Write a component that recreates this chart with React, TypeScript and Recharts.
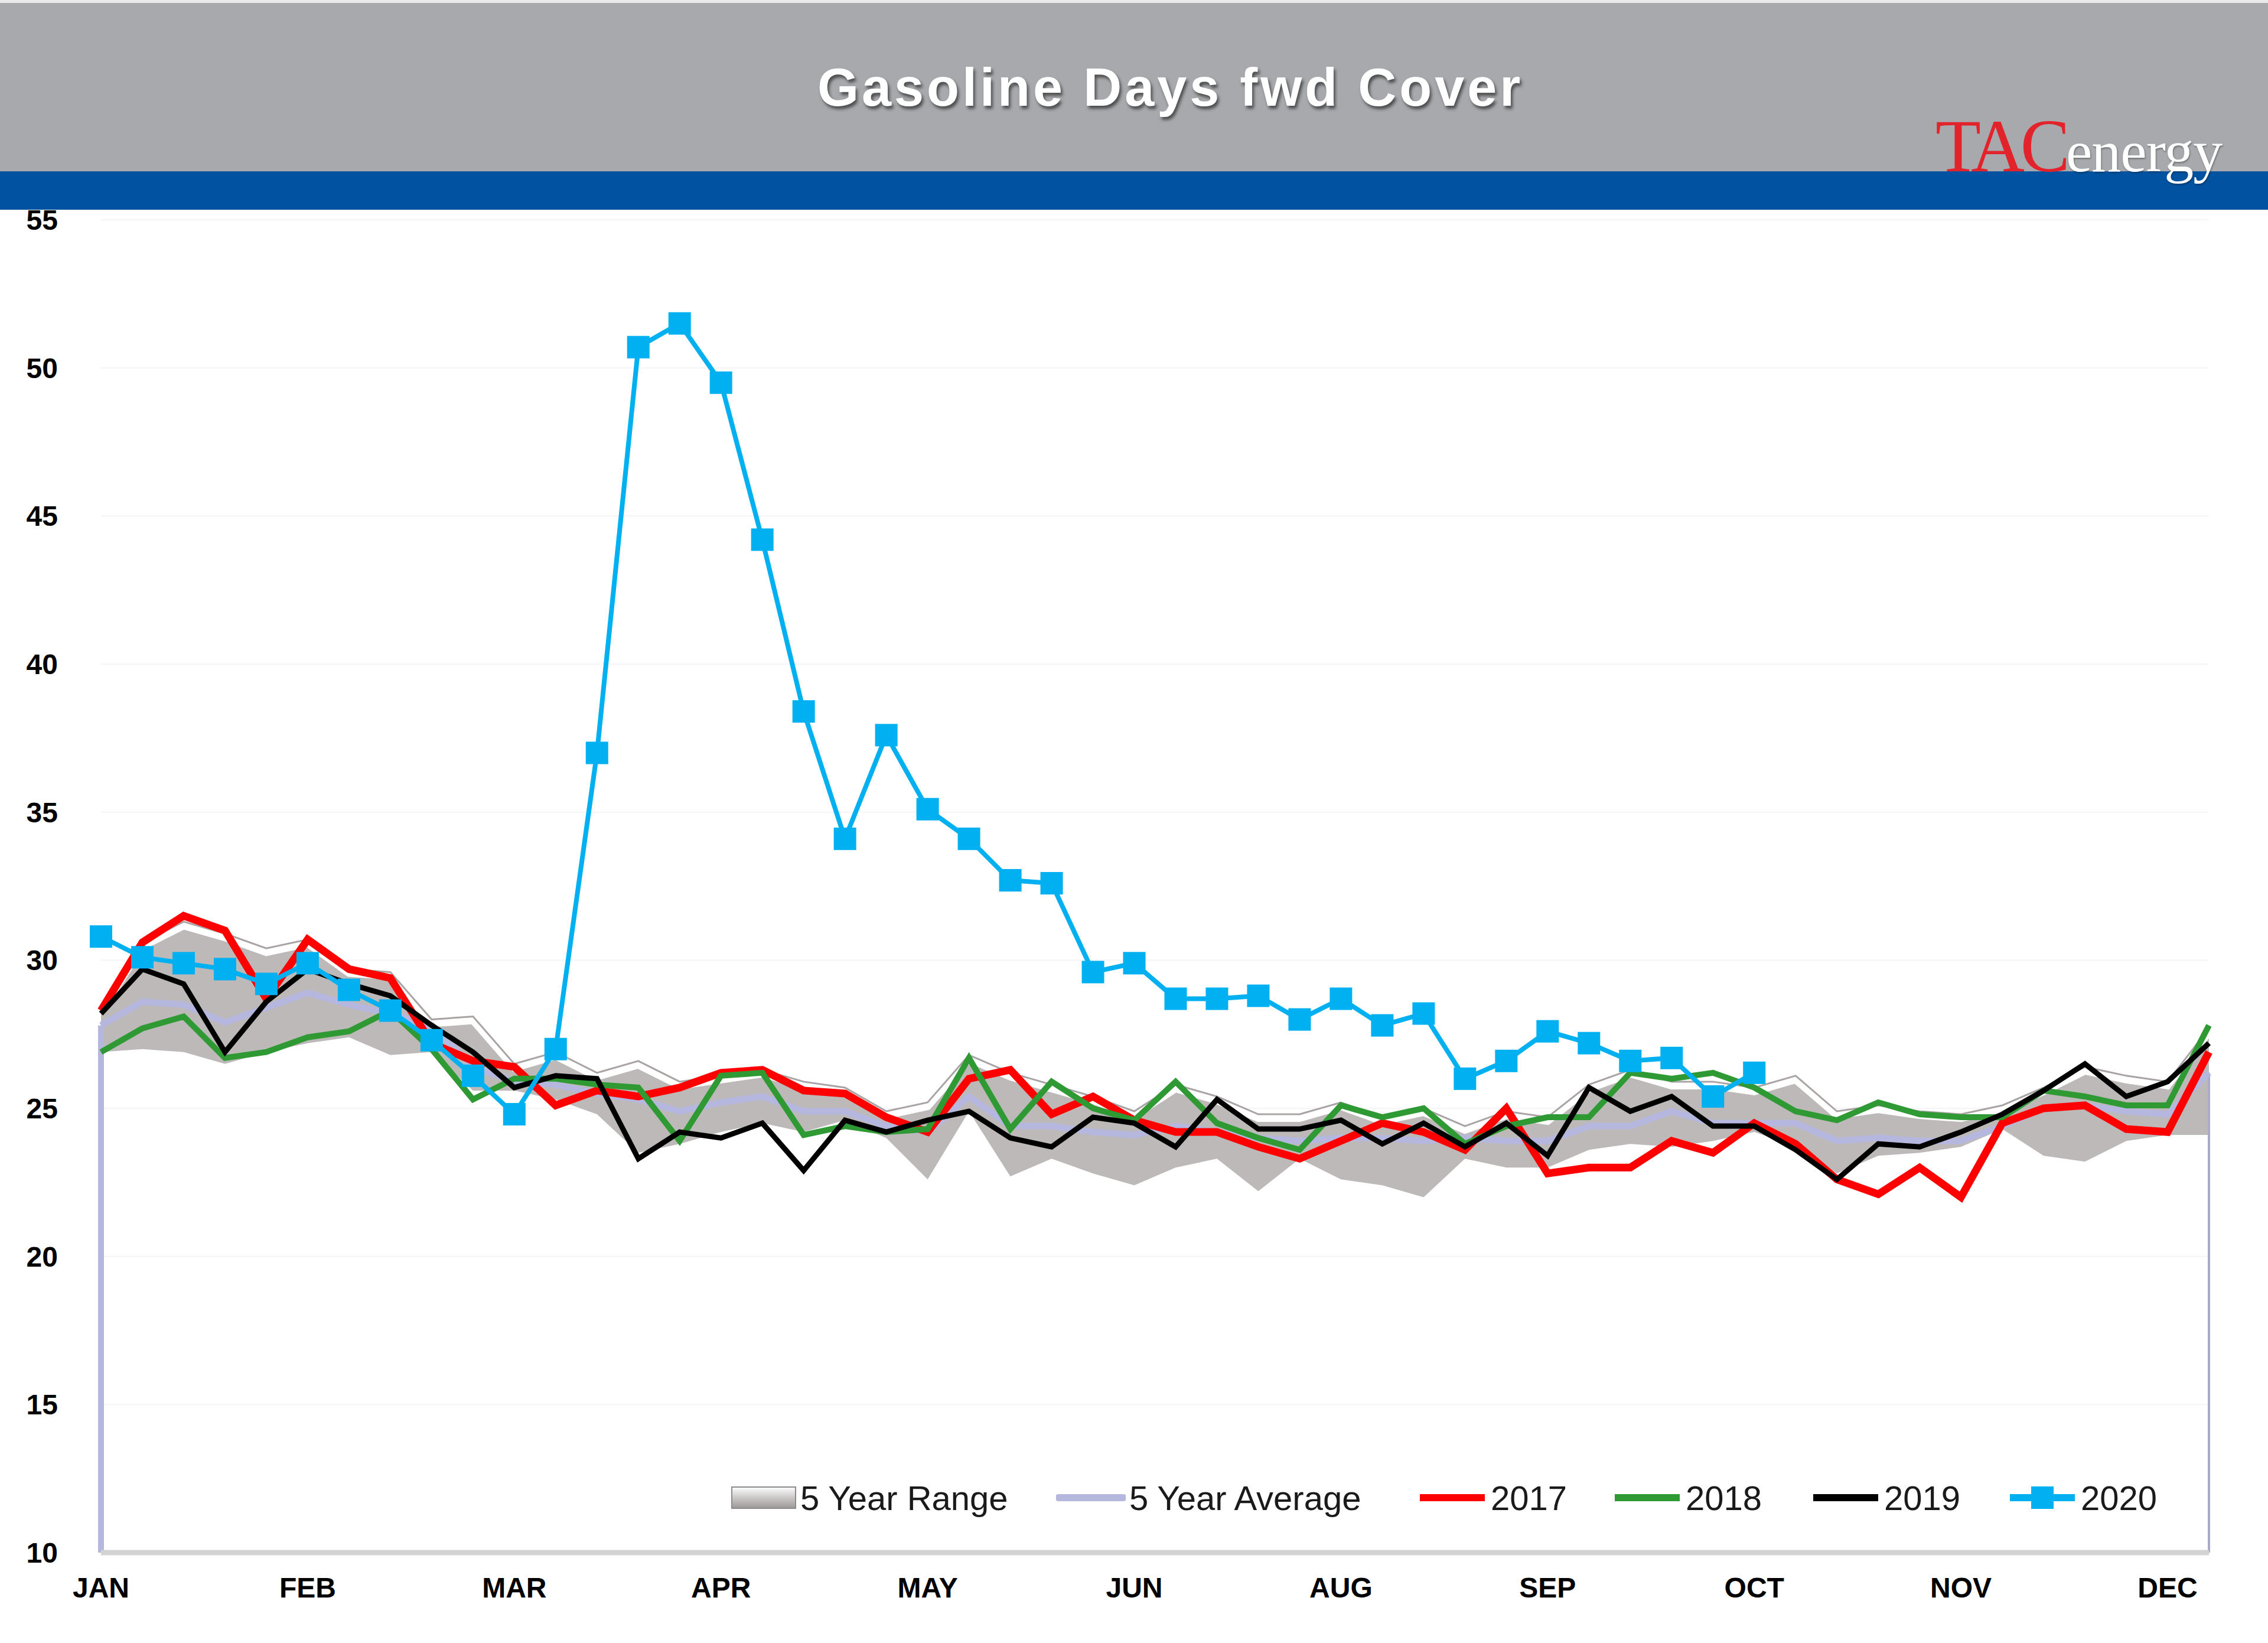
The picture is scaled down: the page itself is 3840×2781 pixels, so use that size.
import React from "react"
import { Area, ComposedChart, CartesianGrid, Legend, Line, ReferenceLine, XAxis, YAxis } from "recharts"

// weekly observations, week 1..52
const weeks = [
  1, 2, 3, 4, 5, 6, 7, 8, 9, 10, 11, 12, 13, 14, 15, 16, 17, 18, 19, 20, 21, 22, 23, 24, 25, 26,
  27, 28, 29, 30, 31, 32, 33, 34, 35, 36, 37, 38, 39, 40, 41, 42, 43, 44, 45, 46, 47, 48, 49, 50, 51, 52,
]

const monthLabels = ["JAN", "FEB", "MAR", "APR", "MAY", "JUN", "AUG", "SEP", "OCT", "NOV", "DEC"]
const monthTicks = [1, 6, 11, 16, 21, 26, 31, 36, 41, 46, 51]
const yTicks = [10, 15, 20, 25, 30, 35, 40, 45, 50, 55]

const rangeLow = [
  26.9, 27.0, 26.9, 26.5, 26.9, 27.2, 27.4, 26.8, 26.9, 25.6, 25.6, 25.3, 24.8, 23.5, 23.8, 24.2, 24.5, 24.2,
  24.6, 24.0, 22.6, 24.9, 22.7, 23.3, 22.8, 22.4, 23.0, 23.3, 22.2, 23.3, 22.6, 22.4, 22.0, 23.3, 23.0, 23.0,
  23.6, 23.8, 23.7, 23.9, 24.2, 23.7, 22.8, 23.4, 23.5, 23.7, 24.3, 23.4, 23.2, 23.9, 24.1, 24.1,
]
const rangeHigh = [
  28.4, 30.6, 31.3, 30.9, 30.4, 30.7, 29.7, 29.6, 28.0, 28.1, 26.5, 26.9, 26.2, 26.6, 25.9, 26.1, 26.3, 25.9,
  25.7, 24.9, 25.2, 26.8, 26.2, 25.8, 25.4, 24.9, 25.8, 25.4, 24.8, 24.8, 25.2, 24.7, 25.0, 24.4, 24.9, 24.7,
  25.8, 26.3, 25.9, 25.9, 25.7, 26.1, 24.9, 25.1, 24.9, 24.8, 25.1, 25.7, 26.4, 26.1, 25.9, 27.7,
]
const avg5 = [
  27.8, 28.6, 28.5, 27.9, 28.4, 28.9, 28.5, 28.2, 27.8, 26.4, 25.9, 25.8, 25.5, 25.3, 24.9, 25.2, 25.4, 24.9,
  24.9, 24.4, 24.2, 25.4, 24.4, 24.4, 24.2, 24.1, 24.4, 24.2, 24.0, 23.9, 24.0, 24.0, 23.9, 24.0, 23.9, 23.9,
  24.4, 24.4, 24.9, 24.5, 24.5, 24.5, 23.9, 24.0, 23.9, 23.9, 24.4, 25.0, 25.1, 24.9, 24.8, 26.2,
]
const y2017 = [
  28.3, 30.6, 31.5, 31.0, 28.7, 30.7, 29.7, 29.4, 27.2, 26.6, 26.4, 25.1, 25.6, 25.4, 25.7, 26.2, 26.3, 25.6,
  25.5, 24.7, 24.2, 26.0, 26.3, 24.8, 25.4, 24.6, 24.2, 24.2, 23.7, 23.3, 23.9, 24.5, 24.2, 23.6, 25.0, 22.8,
  23.0, 23.0, 23.9, 23.5, 24.5, 23.8, 22.6, 22.1, 23.0, 22.0, 24.5, 25.0, 25.1, 24.3, 24.2, 26.9,
]
const y2018 = [
  26.9, 27.7, 28.1, 26.7, 26.9, 27.4, 27.6, 28.3, 27.0, 25.3, 26.0, 26.0, 25.8, 25.7, 23.9, 26.1, 26.2, 24.1,
  24.4, 24.2, 24.3, 26.7, 24.3, 25.9, 25.0, 24.6, 25.9, 24.5, 24.0, 23.6, 25.1, 24.7, 25.0, 23.8, 24.4, 24.7,
  24.7, 26.2, 26.0, 26.2, 25.7, 24.9, 24.6, 25.2, 24.8, 24.7, 24.7, 25.6, 25.4, 25.1, 25.1, 27.8,
]
const y2019 = [
  28.2, 29.7, 29.2, 26.9, 28.6, 29.7, 29.2, 28.8, 27.8, 26.9, 25.7, 26.1, 26.0, 23.3, 24.2, 24.0, 24.5, 22.9,
  24.6, 24.2, 24.6, 24.9, 24.0, 23.7, 24.7, 24.5, 23.7, 25.3, 24.3, 24.3, 24.6, 23.8, 24.5, 23.7, 24.5, 23.4,
  25.7, 24.9, 25.4, 24.4, 24.4, 23.6, 22.6, 23.8, 23.7, 24.2, 24.8, 25.6, 26.5, 25.4, 25.9, 27.2,
]
const y2020 = [
  30.8, 30.1, 29.9, 29.7, 29.2, 29.9, 29.0, 28.3, 27.3, 26.1, 24.8, 27.0, 37.0, 50.7, 51.5, 49.5, 44.2, 38.4,
  34.1, 37.6, 35.1, 34.1, 32.7, 32.6, 29.6, 29.9, 28.7, 28.7, 28.8, 28.0, 28.7, 27.8, 28.2, 26.0, 26.6, 27.6,
  27.2, 26.6, 26.7, 25.4, 26.2,
]

const data = weeks.map((w, i) => ({
  week: w,
  range: [rangeLow[i], rangeHigh[i]],
  rangeTop: rangeHigh[i],
  avg: avg5[i],
  y2017: y2017[i],
  y2018: y2018[i],
  y2019: y2019[i],
  y2020: i < y2020.length ? y2020[i] : null,
}))

const BLUE = "#00b0f0"
const LAVENDER = "#b6b7de"
const FONT = "'Liberation Sans', Arial, sans-serif"

function SquareDot(props: any) {
  const { cx, cy, value } = props
  if (cx == null || cy == null || value == null) return null
  return <rect key={`sq-${cx}`} x={cx - 19} y={cy - 19} width={38} height={38} fill={BLUE} />
}

const legendItems = [
  { id: "range", label: "5 Year Range", left: 0 },
  { id: "avg", label: "5 Year Average", left: 551 },
  { id: "2017", label: "2017", left: 1163, color: "#ff0000" },
  { id: "2018", label: "2018", left: 1493, color: "#2f9a34" },
  { id: "2019", label: "2019", left: 1829, color: "#000000" },
  { id: "2020", label: "2020", left: 2162, color: BLUE },
]

function LegendIcon({ id, color }: { id: string; color?: string }) {
  if (id === "range") {
    return (
      <svg width={112} height={44}>
        <defs>
          <linearGradient id="lgRange" x1="0" y1="0" x2="0" y2="1">
            <stop offset="0" stopColor="#ffffff" />
            <stop offset="0.45" stopColor="#cfcccc" />
            <stop offset="1" stopColor="#9c9898" />
          </linearGradient>
        </defs>
        <rect x={2} y={4} width={108} height={36} fill="url(#lgRange)" stroke="#8e8a8a" strokeWidth={2} />
      </svg>
    )
  }
  if (id === "avg") {
    return (
      <svg width={118} height={44}>
        <line x1={4} y1={22} x2={114} y2={22} stroke={LAVENDER} strokeWidth={12} strokeLinecap="round" />
      </svg>
    )
  }
  return (
    <svg width={118} height={44}>
      <line x1={4} y1={22} x2={114} y2={22} stroke={color} strokeWidth={12} />
      {id === "2020" && <rect x={40} y={3} width={38} height={38} fill={BLUE} />}
    </svg>
  )
}

function renderLegend() {
  return (
    <div style={{ position: "relative", width: 2500, height: 90, fontFamily: FONT }}>
      {legendItems.map((it) => (
        <div
          key={it.id}
          style={{ position: "absolute", left: it.left, top: 0, height: 90, display: "flex", alignItems: "center" }}
        >
          <LegendIcon id={it.id} color={it.color} />
          <span style={{ fontSize: 58, color: "#1a1a1a", marginLeft: 6, whiteSpace: "nowrap" }}>{it.label}</span>
        </div>
      ))}
    </div>
  )
}

export default function App() {
  return (
    <div style={{ position: "absolute", left: 0, top: 0, width: 3840, height: 2781, background: "#ffffff", overflow: "hidden" }}>
      <ComposedChart
        width={3840}
        height={2781}
        data={data}
        margin={{ top: 372, right: 100, bottom: 53, left: 0 }}
      >
        <CartesianGrid vertical={false} stroke="#f5f5f5" strokeWidth={2} />
        <XAxis
          dataKey="week"
          type="number"
          domain={[1, 52]}
          ticks={monthTicks}
          tickFormatter={(v: number) => monthLabels[monthTicks.indexOf(v)] ?? ""}
          height={100}
          tickLine={false}
          tickSize={0}
          tickMargin={42}
          axisLine={{ stroke: "#d3d3d3", strokeWidth: 9 }}
          tick={{ fontSize: 48, fontWeight: 700, fill: "#000000", fontFamily: FONT }}
          interval={0}
        />
        <YAxis
          type="number"
          domain={[10, 55]}
          ticks={yTicks}
          width={171}
          axisLine={false}
          tickLine={false}
          tickSize={0}
          tickMargin={73}
          tick={{ fontSize: 48, fontWeight: 700, fill: "#000000", fontFamily: FONT }}
          interval={0}
        />
        <Area
          dataKey="range"
          type="linear"
          fill="#bdb9b9"
          fillOpacity={1}
          stroke="none"
          isAnimationActive={false}
          legendType="none"
        />
        <Line
          dataKey="rangeTop"
          type="linear"
          stroke="#ffffff"
          strokeWidth={12}
          dot={false}
          isAnimationActive={false}
          legendType="none"
          style={{ transform: "translateY(7px)" }}
        />
        <Line
          dataKey="rangeTop"
          type="linear"
          stroke="#aaa3a3"
          strokeWidth={3}
          dot={false}
          isAnimationActive={false}
          legendType="none"
        />
        <ReferenceLine segment={[{ x: 1, y: 10 }, { x: 1, y: avg5[0] }]} stroke={LAVENDER} strokeWidth={10} />
        <ReferenceLine segment={[{ x: 52, y: 10 }, { x: 52, y: avg5[51] }]} stroke="#a9a9c9" strokeWidth={4} />
        <Line dataKey="avg" type="linear" stroke={LAVENDER} strokeWidth={11} dot={false} isAnimationActive={false} />
        <Line dataKey="y2017" type="linear" stroke="#ff0000" strokeWidth={13} dot={false} isAnimationActive={false} />
        <Line dataKey="y2018" type="linear" stroke="#2f9a34" strokeWidth={10} dot={false} isAnimationActive={false} />
        <Line dataKey="y2019" type="linear" stroke="#000000" strokeWidth={9} dot={false} isAnimationActive={false} />
        <Line
          dataKey="y2020"
          type="linear"
          stroke={BLUE}
          strokeWidth={8}
          dot={<SquareDot />}
          activeDot={false}
          isAnimationActive={false}
          connectNulls={false}
        />
        <Legend
          verticalAlign="middle"
          align="center"
          layout="horizontal"
          content={renderLegend}
          wrapperStyle={{ left: 1237, top: 2490, width: 2500, height: 90 }}
        />
      </ComposedChart>

      {/* header */}
      <div style={{ position: "absolute", left: 0, top: 0, width: 3840, height: 290, background: "#a7a9ac", borderTop: "5px solid #e9e9ea", boxSizing: "border-box" }} />
      <div style={{ position: "absolute", left: 0, top: 290, width: 3840, height: 65, background: "#0153a2" }} />
      <div
        style={{
          position: "absolute",
          left: 1384,
          top: 103,
          fontFamily: FONT,
          fontWeight: 700,
          fontSize: 90,
          lineHeight: "90px",
          letterSpacing: 5,
          color: "#ffffff",
          whiteSpace: "nowrap",
          textShadow: "3px 5px 5px rgba(40,40,40,0.7)",
        }}
      >
        Gasoline Days fwd Cover
      </div>
      <div
        style={{
          position: "absolute",
          left: 3277,
          top: 185,
          fontFamily: "'Liberation Serif', 'Times New Roman', serif",
          lineHeight: 1,
          whiteSpace: "nowrap",
        }}
      >
        <span style={{ fontSize: 126, color: "#e3232c", letterSpacing: -7 }}>TAC</span>
        <span style={{ fontSize: 100, color: "#ffffff", letterSpacing: -1, textShadow: "1px 2px 3px rgba(0,0,0,0.35)" }}>energy</span>
      </div>
    </div>
  )
}
